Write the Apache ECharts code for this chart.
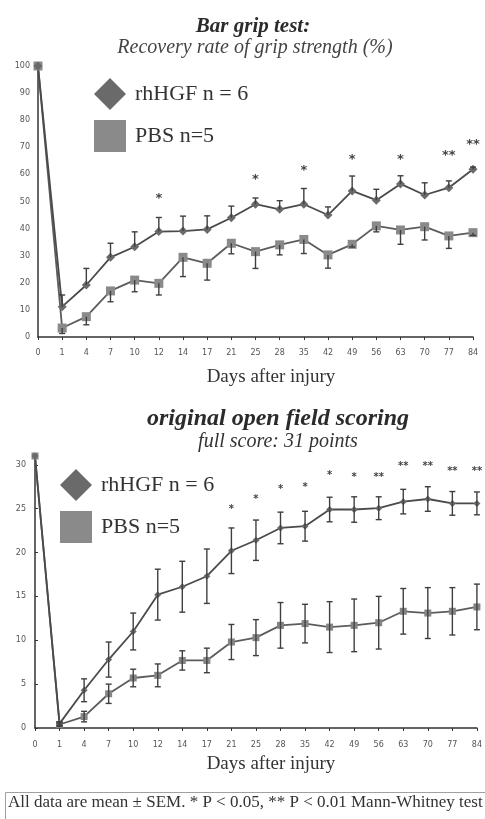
<!DOCTYPE html>
<html>
<head>
<meta charset="utf-8">
<script src="https://cdn.jsdelivr.net/npm/echarts@6/dist/echarts.min.js"></script>
<style>
  html, body { margin: 0; padding: 0; background: #fff; }
  #main { width: 485px; height: 819px; }
</style>
</head>
<body>
<div id="main"></div>
<script>
// days after injury (category axis, same for both panels)
const days = ['0', '1', '4', '7', '10', '12', '14', '17', '21', '25', '28', '35', '42', '49', '56', '63', '70', '77', '84'];

// bar grip test, recovery rate (%)
const gripHgf = [100, 11.2, 19.2, 29.4, 33.3, 38.9, 39.1, 39.7, 44, 49, 47.1, 49, 45, 53.9, 50.5, 56.5, 52.4, 55.1, 61.9];
const gripHgfErr = [0, 4.3, 6.1, 5.2, 5.5, 5.2, 5.5, 5, 4.3, 2.3, 3.2, 5.8, 3, 5.5, 4, 3, 4.5, 2.5, 0.8];
const gripPbs = [100, 3.3, 7.5, 17, 21, 19.8, 29.4, 27.2, 34.6, 31.5, 34, 36, 30.3, 34.2, 41, 39.5, 40.7, 37.3, 38.5];
const gripPbsErr = [0, 2, 3, 4, 4.3, 4.3, 7.1, 6.2, 3.9, 6.2, 3.7, 5.2, 4.9, 1, 2.2, 5.3, 4.9, 4.6, 1];
const gripStarDays = ['12', '25', '35', '49', '63', '77', '84'];
const gripStarY = [51, 58, 61.5, 65.5, 65.5, 67, 71];
const gripStarText = ['*', '*', '*', '*', '*', '**', '**'];

// open field scoring (full score 31)
const fieldHgf = [31, 0.5, 4.3, 7.8, 11, 15.2, 16.1, 17.3, 20.2, 21.4, 22.8, 23, 24.9, 24.9, 25.05, 25.8, 26.1, 25.6, 25.6];
const fieldHgfErr = [0, 0.2, 1.3, 2, 2.1, 2.9, 2.9, 3.1, 2.6, 2.3, 1.8, 1.7, 1.4, 1.45, 1.3, 1.4, 1.4, 1.35, 1.3];
const fieldPbs = [31, 0.4, 1.3, 3.9, 5.7, 6, 7.7, 7.7, 9.8, 10.3, 11.7, 11.9, 11.5, 11.7, 12, 13.3, 13.1, 13.3, 13.8];
const fieldPbsErr = [0, 0.2, 0.6, 1.1, 1, 1.3, 1.1, 1.4, 2, 2.05, 2.6, 2.2, 2.9, 3, 3, 2.6, 2.9, 2.7, 2.6];
const fieldStarDays = ['21', '25', '28', '35', '42', '49', '56', '63', '70', '77', '84'];
const fieldStarY = [24.9, 26.1, 27.2, 27.4, 28.8, 28.6, 28.6, 29.8, 29.8, 29.2, 29.2];
const fieldStarText = ['*', '*', '*', '*', '*', '*', '**', '**', '**', '**', '**'];

const hgfName = 'rhHGF n = 6';
const pbsName = 'PBS n=5';
const serif = '"Liberation Serif", "DejaVu Serif", serif';

// error bar segments: [catIndex, from, to]; cap drawn at "to"
function bars(mean, err, dirs) {
  const out = [];
  mean.forEach((m, i) => {
    if (!err[i]) return;
    dirs.forEach(d => out.push([i, m, m + d * err[i]]));
  });
  return out;
}

function errorBarItem(params, api) {
  const a = api.coord([api.value(0), api.value(1)]);
  const b = api.coord([api.value(0), api.value(2)]);
  const st = { stroke: '#3f3f3f', lineWidth: 1.4 };
  return {
    type: 'group',
    children: [
      { type: 'line', shape: { x1: a[0], y1: a[1], x2: b[0], y2: b[1] }, style: st },
      { type: 'line', shape: { x1: b[0] - 3, y1: b[1], x2: b[0] + 3, y2: b[1] }, style: st }
    ]
  };
}

function starItem(texts, size) {
  return function (params, api) {
    const p = api.coord([api.value(0), api.value(1)]);
    return {
      type: 'text',
      x: p[0], y: p[1],
      style: {
        text: texts[params.dataIndex], fill: '#444',
        font: 'bold ' + size + 'px "DejaVu Sans", sans-serif',
        align: 'center', verticalAlign: 'middle'
      }
    };
  };
}

function stars(dayList, ys) {
  return dayList.map((d, i) => [days.indexOf(d), ys[i]]);
}

const axisText = { color: '#555', fontSize: 8, fontFamily: '"DejaVu Sans", sans-serif' };
const axisLine = { show: true, lineStyle: { color: '#333', width: 1.5 } };

function xAxisFor(grid, margin) {
  return {
    type: 'category', gridIndex: grid, data: days, boundaryGap: false,
    axisLine: axisLine,
    axisTick: { show: true, length: 3, alignWithLabel: true, lineStyle: { color: '#333' } },
    axisLabel: Object.assign({ margin: margin, interval: 0 }, axisText),
    splitLine: { show: false }
  };
}

function lineSeries(name, grid, data, symbol, size, color, lineColor) {
  return {
    name: name, type: 'line', xAxisIndex: grid, yAxisIndex: grid, data: data,
    symbol: symbol, symbolSize: size, showAllSymbol: true,
    itemStyle: { color: color },
    lineStyle: { color: lineColor, width: 1.8 },
    z: 3
  };
}

function legendAt(left, top) {
  return {
    left: left, top: top, padding: 0, orient: 'vertical', itemWidth: 32, itemHeight: 32, itemGap: 10,
    textStyle: { fontFamily: serif, fontSize: 22, color: '#333', padding: [0, 0, 0, 4] },
    data: [{ name: hgfName, icon: 'diamond' }, { name: pbsName, icon: 'rect' }]
  };
}

const chart = echarts.init(document.getElementById('main'));

chart.setOption({
  animation: false,
  backgroundColor: '#fff',
  title: [
    { text: 'Bar grip test:', left: 253, top: 16, padding: 0, textAlign: 'center',
      textStyle: { fontFamily: serif, fontStyle: 'italic', fontWeight: 'bold', fontSize: 21, color: '#2b2b2b' } },
    { text: 'Recovery rate of grip strength (%)', left: 255, top: 38, padding: 0, textAlign: 'center',
      textStyle: { fontFamily: serif, fontStyle: 'italic', fontWeight: 'normal', fontSize: 20, color: '#444' } },
    { text: 'Days after injury', left: 271, top: 368, padding: 0, textAlign: 'center',
      textStyle: { fontFamily: serif, fontWeight: 'normal', fontSize: 19, color: '#333' } },
    { text: 'original open field scoring', left: 278, top: 407, padding: 0, textAlign: 'center',
      textStyle: { fontFamily: serif, fontStyle: 'italic', fontWeight: 'bold', fontSize: 24, color: '#2b2b2b' } },
    { text: 'full score: 31 points', left: 278, top: 432, padding: 0, textAlign: 'center',
      textStyle: { fontFamily: serif, fontStyle: 'italic', fontWeight: 'normal', fontSize: 20, color: '#333' } },
    { text: 'Days after injury', left: 271, top: 755, padding: 0, textAlign: 'center',
      textStyle: { fontFamily: serif, fontWeight: 'normal', fontSize: 19, color: '#333' } }
  ],
  legend: [legendAt(94, 78), legendAt(60, 469)],
  grid: [
    { left: 38, right: 12, top: 66, height: 271 },
    { left: 35, right: 5, top: 456, height: 272 }
  ],
  xAxis: [xAxisFor(0, 12), xAxisFor(1, 13)],
  yAxis: [
    { type: 'value', gridIndex: 0, min: 0, max: 100, interval: 10,
      axisLine: axisLine, axisTick: { show: false },
      axisLabel: Object.assign({ margin: 8 }, axisText), splitLine: { show: false } },
    { type: 'value', gridIndex: 1, min: 0, max: 31, interval: 5,
      axisLine: axisLine, axisTick: { show: true, length: 3, inside: true, lineStyle: { color: '#333' } },
      axisLabel: Object.assign({ margin: 9, formatter: v => (v % 5 === 0 ? v : '') }, axisText),
      splitLine: { show: false } }
  ],
  series: [
    lineSeries(pbsName, 0, gripPbs, 'rect', 9, '#8a8a8a', '#5c5c5c'),
    lineSeries(hgfName, 0, gripHgf, 'diamond', 9, '#6a6a6a', '#4a4a4a'),
    { type: 'custom', xAxisIndex: 0, yAxisIndex: 0, renderItem: errorBarItem, z: 4,
      data: bars(gripHgf, gripHgfErr, [1]) },
    { type: 'custom', xAxisIndex: 0, yAxisIndex: 0, renderItem: errorBarItem, z: 4,
      data: bars(gripPbs, gripPbsErr, [-1]) },
    { type: 'custom', xAxisIndex: 0, yAxisIndex: 0, renderItem: starItem(gripStarText, 13), z: 5,
      data: stars(gripStarDays, gripStarY) },

    lineSeries(pbsName, 1, fieldPbs, 'rect', 7, '#858585', '#5c5c5c'),
    lineSeries(hgfName, 1, fieldHgf, 'diamond', 7, '#6a6a6a', '#4a4a4a'),
    { type: 'custom', xAxisIndex: 1, yAxisIndex: 1, renderItem: errorBarItem, z: 4,
      data: bars(fieldHgf, fieldHgfErr, [1, -1]) },
    { type: 'custom', xAxisIndex: 1, yAxisIndex: 1, renderItem: errorBarItem, z: 4,
      data: bars(fieldPbs, fieldPbsErr, [1, -1]) },
    { type: 'custom', xAxisIndex: 1, yAxisIndex: 1, renderItem: starItem(fieldStarText, 10), z: 5,
      data: stars(fieldStarDays, fieldStarY) }
  ],
  graphic: [
    { type: 'rect', left: 5, top: 792, shape: { width: 500, height: 40 },
      style: { fill: '#fff', stroke: '#a0a0a0', lineWidth: 1 } },
    { type: 'text', left: 8, top: 794,
      style: { text: 'All data are mean \u00b1 SEM. * P < 0.05, ** P < 0.01 Mann-Whitney test',
               font: '17px "Liberation Serif", serif', fill: '#333' } }
  ]
});
</script>
</body>
</html>
